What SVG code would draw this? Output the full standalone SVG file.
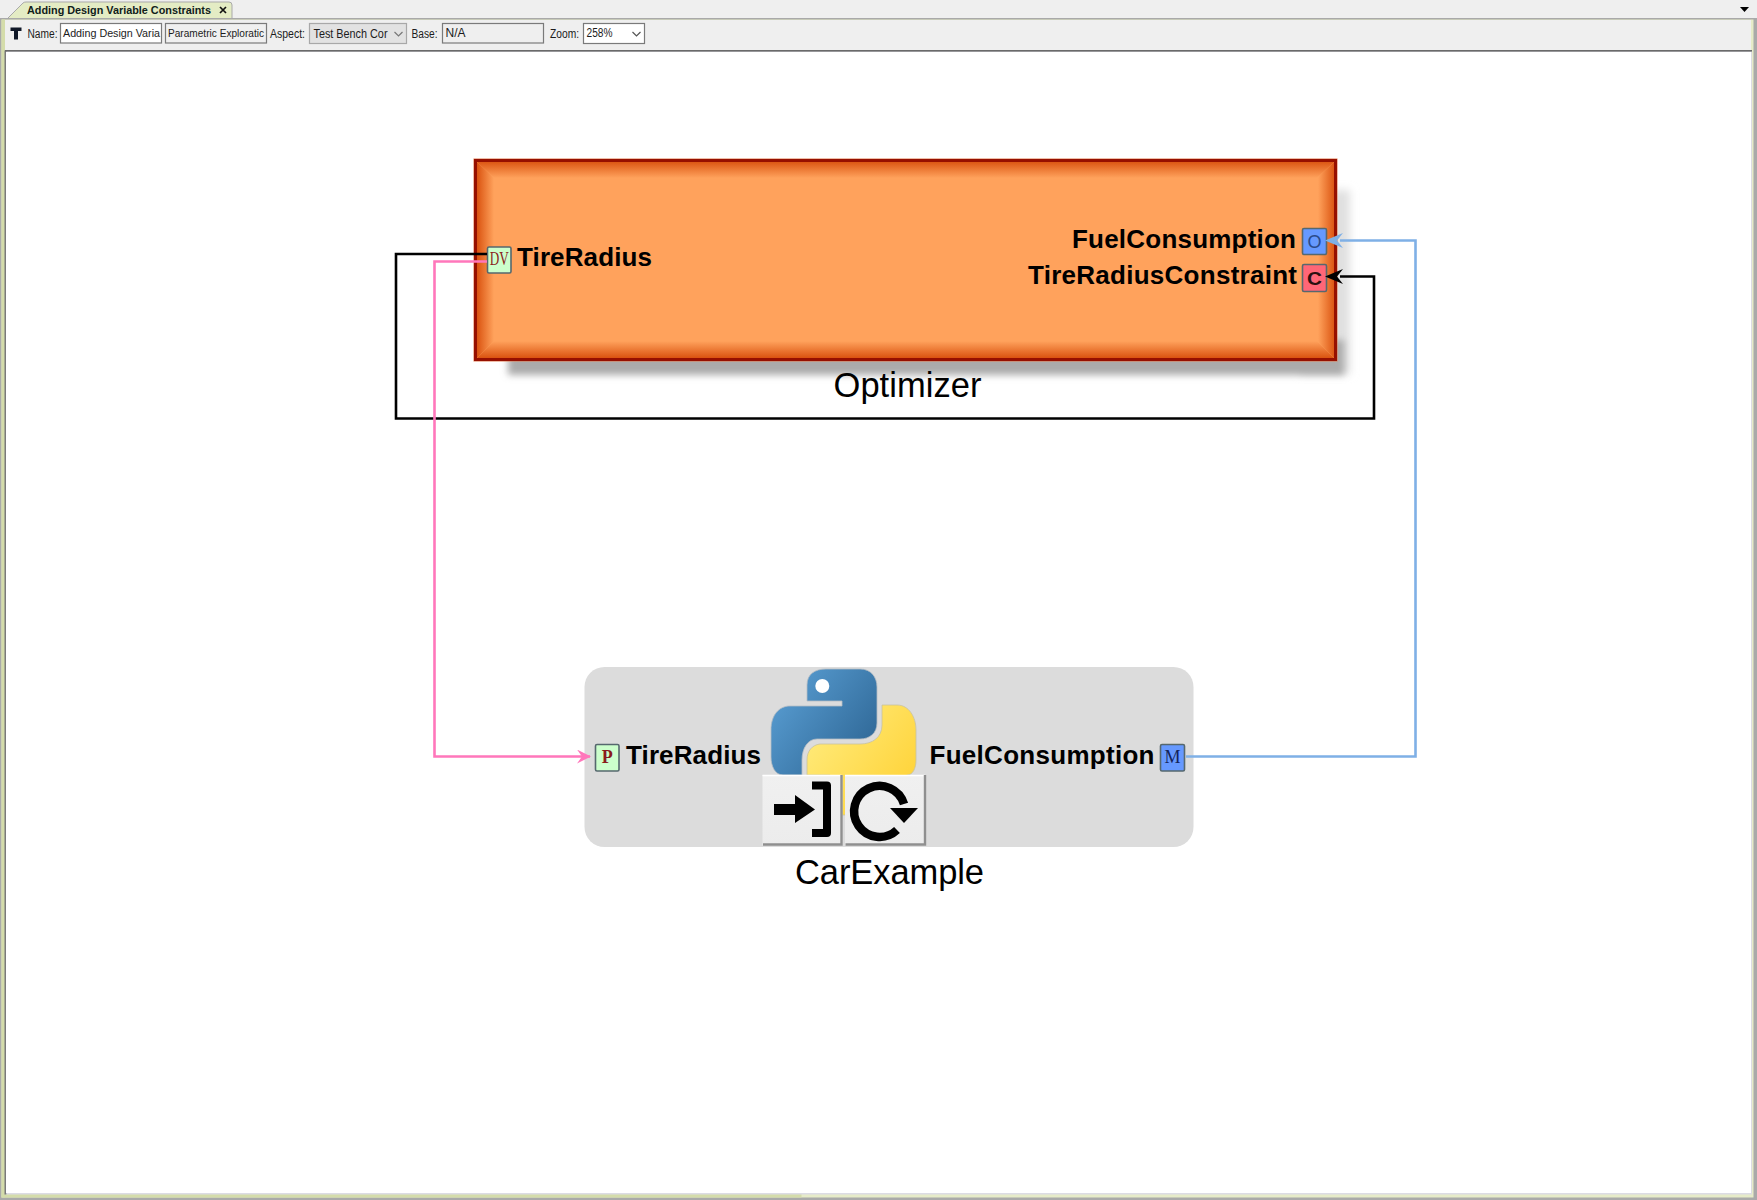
<svg xmlns="http://www.w3.org/2000/svg" width="1757" height="1200" viewBox="0 0 1757 1200">
<style>
.ui{font-family:"Liberation Sans",Arial,sans-serif;font-size:12.5px;fill:#1c1c1c}
.port{stroke:#56686e;stroke-width:1.6}
.lbl{font-family:"Liberation Sans",Arial,sans-serif;font-weight:700;font-size:26px;fill:#000}
.name{font-family:"Liberation Sans",Arial,sans-serif;font-size:34.5px;fill:#000;text-anchor:middle}
.pt{font-family:"Liberation Serif",serif;font-size:18px;text-anchor:middle}
.conn{fill:none;stroke-width:2.6}
.field{fill:#fff;stroke:#7a7a7a;stroke-width:1.2}
</style>
<defs>
<linearGradient id="bT" gradientUnits="userSpaceOnUse" x1="0" y1="161" x2="0" y2="178"><stop offset="0" stop-color="#da5310"/><stop offset="1" stop-color="#ffa25c"/></linearGradient>
<linearGradient id="bB" gradientUnits="userSpaceOnUse" x1="0" y1="358" x2="0" y2="341"><stop offset="0" stop-color="#da5310"/><stop offset="1" stop-color="#ffa25c"/></linearGradient>
<linearGradient id="bL" gradientUnits="userSpaceOnUse" x1="477" y1="0" x2="494" y2="0"><stop offset="0" stop-color="#da5310"/><stop offset="1" stop-color="#ffa25c"/></linearGradient>
<linearGradient id="bR" gradientUnits="userSpaceOnUse" x1="1335" y1="0" x2="1318" y2="0"><stop offset="0" stop-color="#da5310"/><stop offset="1" stop-color="#ffa25c"/></linearGradient>
<linearGradient id="pyB" gradientUnits="userSpaceOnUse" x1="775" y1="680" x2="870" y2="750"><stop offset="0" stop-color="#5a9fd4"/><stop offset="1" stop-color="#306998"/></linearGradient>
<linearGradient id="pyY" gradientUnits="userSpaceOnUse" x1="825" y1="730" x2="905" y2="790"><stop offset="0" stop-color="#ffe873"/><stop offset="1" stop-color="#ffd43b"/></linearGradient>
<linearGradient id="btn" x1="0" y1="0" x2="0" y2="1"><stop offset="0" stop-color="#f0f0f0"/><stop offset="1" stop-color="#ececec"/></linearGradient>
<filter id="blurB" filterUnits="userSpaceOnUse" x="470" y="320" width="910" height="80"><feGaussianBlur stdDeviation="3.5"/></filter>
<filter id="blurR" filterUnits="userSpaceOnUse" x="1280" y="160" width="100" height="240"><feGaussianBlur stdDeviation="4.5"/></filter>
<marker id="aP" viewBox="0 0 14 14" refX="13" refY="7" markerWidth="14" markerHeight="14" markerUnits="userSpaceOnUse" orient="auto"><path d="M0 0L14 7L0 14L5 7Z" fill="#ff77bb"/></marker>
</defs>

<g id="window">
<rect width="1757" height="1200" fill="#efefef"/>
<rect x="0" y="18" width="1757" height="1182" fill="#a9a9a9"/>
<rect x="1.5" y="19.5" width="1752" height="1178" fill="#e6ebc8"/>
<rect x="1.5" y="19.5" width="3.5" height="1178" fill="#d4dcaa"/>
<rect x="1.5" y="1194" width="800" height="3.5" fill="#d4dcaa"/>
<rect x="5" y="20" width="1746" height="31" fill="#efefef"/>
<rect x="5" y="50.5" width="1747" height="1144" fill="#dcdce4"/>
<rect x="4.5" y="50.5" width="1.8" height="1144" fill="#7a7a7a"/>
<rect x="5" y="50" width="1747" height="1.6" fill="#6a6a6a"/>
<rect x="6" y="52" width="1745" height="1141" fill="#fff"/>
</g>

<g id="tab">
<path d="M7 19L23 3Q24 2 26 2H229Q232 2 232 5V18.5H7Z" fill="#e4ecc4" stroke="#a9a9a9" stroke-width="1"/>
<text x="27" y="14" font-family="'Liberation Sans',Arial,sans-serif" font-size="11.5" font-weight="700" fill="#10201a" textLength="184" lengthAdjust="spacingAndGlyphs">Adding Design Variable Constraints</text>
<path d="M220 7L226 13M226 7L220 13" stroke="#111" stroke-width="1.7"/>
<path d="M1740 7H1749L1744.5 12Z" fill="#000"/>
</g>

<g id="toolbar">
<path d="M10.5 27.5H21.5V31H18V39.5H14V31H10.5Z" fill="#101828"/>
<text class="ui" x="27.5" y="37.5" textLength="30" lengthAdjust="spacingAndGlyphs">Name:</text>
<rect class="field" x="60.5" y="23.5" width="101" height="19.5"/>
<text class="ui" x="63" y="37" font-size="11" style="font-size:11px" textLength="97" lengthAdjust="spacingAndGlyphs">Adding Design Varia</text>
<rect x="165.5" y="23.5" width="101" height="19.5" fill="#f0f0f0" stroke="#7a7a7a" stroke-width="1.2"/>
<text class="ui" x="168" y="37" style="font-size:11px" textLength="96" lengthAdjust="spacingAndGlyphs">Parametric Exploratic</text>
<text class="ui" x="270" y="37.5" textLength="35" lengthAdjust="spacingAndGlyphs">Aspect:</text>
<rect x="309.5" y="23.5" width="97" height="20" fill="#e2e2e2" stroke="#a8a8a8" stroke-width="1.2"/>
<text class="ui" x="313.5" y="38" textLength="74" lengthAdjust="spacingAndGlyphs">Test Bench Cor</text>
<path d="M394.5 32L398.5 36L402.5 32" fill="none" stroke="#777" stroke-width="1.2"/>
<text class="ui" x="411.5" y="38" textLength="26" lengthAdjust="spacingAndGlyphs">Base:</text>
<rect class="field" x="442.5" y="23.5" width="101" height="19.5" style="fill:#efefef"/>
<text class="ui" x="445.5" y="37" textLength="20" lengthAdjust="spacingAndGlyphs">N/A</text>
<text class="ui" x="550" y="38" textLength="29" lengthAdjust="spacingAndGlyphs">Zoom:</text>
<rect class="field" x="583.5" y="23.5" width="61" height="20"/>
<text class="ui" x="586.5" y="37" textLength="26" lengthAdjust="spacingAndGlyphs">258%</text>
<path d="M632.5 32L636.5 36L640.5 32" fill="none" stroke="#555" stroke-width="1.2"/>
</g>

<g id="optimizer">
<rect x="1300" y="190" width="50" height="184" fill="#e0e0e0" filter="url(#blurR)"/>
<rect x="508" y="340" width="836" height="35" fill="#ababab" filter="url(#blurB)"/>
<rect x="473.5" y="158.5" width="864" height="203" fill="#e07a50"/>
<rect x="475.5" y="160.5" width="860" height="199" fill="#ffa25c" stroke="#961000" stroke-width="3"/>
<path d="M477 162H1334L1317 178H494Z" fill="url(#bT)"/>
<path d="M477 358H1334L1317 341H494Z" fill="url(#bB)"/>
<path d="M477 162V358L494 341V178Z" fill="url(#bL)"/>
<path d="M1334 162V358L1317 341V178Z" fill="url(#bR)"/>
<text class="lbl" x="517" y="266" textLength="135">TireRadius</text>
<text class="lbl" x="1072" y="248" textLength="224">FuelConsumption</text>
<text class="lbl" x="1028" y="284" textLength="269">TireRadiusConstraint</text>
<text class="name" x="907.5" y="397" textLength="148">Optimizer</text>
</g>

<g id="carexample">
<rect x="584.5" y="667" width="609" height="180" rx="20" fill="#dcdcdc"/>
<path d="M882 705H897C909 705 916 717 916 730V760C916 768 913 775 907 775V815H830V775H807V760C807 751 812 745 820 744H860C873 744 882 737 882 725Z" fill="url(#pyY)" stroke="#c8c2a0" stroke-width=".8"/>
<path d="M807 701V685C807 674 815 669 826 669H860C871 669 877 677 877 687V723C877 733 870 739 860 739H817C808 739 802 748 802 760V775H783C775 775 771 766 771 757V730C771 715 779 706 790 706H842V701Z" fill="url(#pyB)" stroke="#b4bcc4" stroke-width=".8"/>
<circle cx="822.3" cy="686" r="7" fill="#fff"/>
<path d="M762.5 775H842.5V845.5H762.5Z" fill="url(#btn)"/>
<path d="M762.5 775.5H841.5" stroke="#fff" stroke-width="1.5"/>
<path d="M841.5 775V844.5H763" fill="none" stroke="#8f8f8f" stroke-width="2.4"/>
<path d="M774 804H795V795L815 809.5L795 823V815H774Z" fill="#000"/>
<path d="M812 785.5H827V833H812" fill="none" stroke="#000" stroke-width="8" stroke-linejoin="round"/>
<path d="M845 775H926V845.5H845Z" fill="url(#btn)"/>
<path d="M845 775.5H925" stroke="#fff" stroke-width="1.5"/>
<path d="M925 775V844.5H845.5" fill="none" stroke="#8f8f8f" stroke-width="2.4"/>
<path d="M897 830A25.5 25.5 0 1 1 904 804" fill="none" stroke="#000" stroke-width="8.5"/>
<path d="M890 808H918L904 823Z" fill="#000"/>
<text class="lbl" x="626" y="764" textLength="135">TireRadius</text>
<text class="lbl" x="929.5" y="764" textLength="225">FuelConsumption</text>
<text class="name" x="889.5" y="884" textLength="189">CarExample</text>
</g>

<g id="port-dv"><rect class="port" x="487.5" y="247" width="23.5" height="26" rx="1.5" fill="#ccffcc"/><text class="pt" x="499.2" y="265" fill="#8a1c1c" textLength="19" lengthAdjust="spacingAndGlyphs">DV</text></g>
<g id="port-o"><rect class="port" x="1302.5" y="228.5" width="24" height="26" rx="1.5" fill="#6699ff"/><text x="1307.5" y="248" font-family="'Liberation Sans',sans-serif" font-size="19" fill="#2a4a8a" textLength="14" lengthAdjust="spacingAndGlyphs">O</text></g>
<g id="port-c"><rect class="port" x="1302.5" y="264.5" width="24" height="27" rx="1.5" fill="#ff6677"/><text x="1307" y="285" font-family="'Liberation Sans',sans-serif" font-size="19" font-weight="700" fill="#2a1010" textLength="15" lengthAdjust="spacingAndGlyphs">C</text></g>
<g id="port-p"><rect class="port" x="595.5" y="744.5" width="23.5" height="26.5" rx="1.5" fill="#ccffcc"/><text class="pt" x="607.2" y="763" fill="#8a1c1c" font-weight="700">P</text></g>
<g id="port-m"><rect class="port" x="1160.5" y="744.5" width="24" height="26.5" rx="1.5" fill="#6699ff"/><text class="pt" x="1172.5" y="763" fill="#14245a">M</text></g>

<g id="connectors">
<path class="conn" stroke="#000" d="M487 254H396V418.5H1374V276.5H1340"/>
<path class="conn" stroke="#ff77bb" d="M487 261.5H434.5V756.5H590" marker-end="url(#aP)"/>
<path class="conn" stroke="#7fb0e6" d="M1186 756.5H1415.5V240.5H1340"/>
<path d="M1325 240.5L1343 233L1337 240.5L1343 248Z" fill="#7fb0e6"/>
<path d="M1325 276.5L1343 269L1337 276.5L1343 284Z" fill="#000"/>
</g>
</svg>
